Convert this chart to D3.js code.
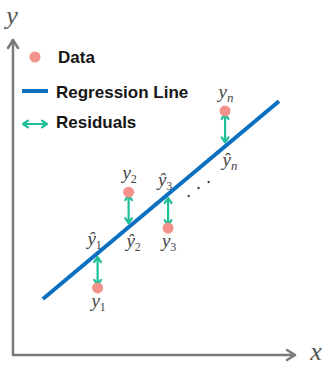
<!DOCTYPE html>
<html><head><meta charset="utf-8">
<script src="https://cdn.jsdelivr.net/npm/d3@7"></script>
<style>html,body{margin:0;padding:0;background:#fff;}</style>
</head><body>
<script>
// ---- data (abstract units) ----
const xs = [30, 41, 55, 75.2];
const ys = [21.3, 51.7, 40.3, 77.5];
const subs = ["1", "2", "3", "n"];
const lineX = [10.6, 94.3];
const slope = 0.75, intercept = 9.85;
const ellipsisX = [62.3, 65.8, 69.4];
const ellipsisY = [50.5, 53.0, 54.9];
const legendLabels = ["Data", "Regression Line", "Residuals"];

const W = 327, H = 366;
const blue = "#0b70c0", teal = "#1fbf97", salmon = "#f2928a", grey = "#7a7a7a";
const svg = d3.select("body").append("svg").attr("width", W).attr("height", H);
const x = d3.scaleLinear().domain([0, 100]).range([13, 295]);
const y = d3.scaleLinear().domain([0, 100]).range([355, 40]);
const fit = v => intercept + slope * v;

// axes
const ax = svg.append("g").attr("stroke", grey).attr("stroke-width", 2.5).attr("fill", "none")
  .attr("stroke-linecap", "round").attr("stroke-linejoin", "round");
ax.append("path").attr("d", `M${x(0)},${y(0)}L${x(0)},${y(100)}`);
ax.append("path").attr("d", `M${x(0)},${y(0)}L${x(100)},${y(0)}`);
ax.append("path").attr("d", `M${x(0)-5},${y(100)+8}L${x(0)},${y(100)}L${x(0)+5},${y(100)+8}`);
ax.append("path").attr("d", `M${x(100)-8},${y(0)-5}L${x(100)},${y(0)}L${x(100)-8},${y(0)+5}`);
svg.append("text").attr("x", 12).attr("y", 24).attr("text-anchor", "middle")
  .attr("font-family", "Liberation Serif, serif").attr("font-style", "italic").attr("font-size", 26)
  .attr("fill", "#555").text("y");
svg.append("text").attr("x", 316).attr("y", 360).attr("text-anchor", "middle")
  .attr("font-family", "Liberation Serif, serif").attr("font-style", "italic").attr("font-size", 26)
  .attr("fill", "#555").text("x");

// regression line
svg.append("line").attr("x1", x(lineX[0])).attr("y1", y(fit(lineX[0])))
  .attr("x2", x(lineX[1])).attr("y2", y(fit(lineX[1])))
  .attr("stroke", blue).attr("stroke-width", 4);

// residual arrows
function dblArrow(g, x1, y1, x2, y2) {
  const a = Math.atan2(y2 - y1, x2 - x1), L = 6, s = 0.6;
  const head = (px, py, ang) => `M${px + L*Math.cos(ang+s)},${py + L*Math.sin(ang+s)}L${px},${py}L${px + L*Math.cos(ang-s)},${py + L*Math.sin(ang-s)}`;
  g.append("path").attr("d", `M${x1},${y1}L${x2},${y2}` + head(x1, y1, a) + head(x2, y2, a + Math.PI))
    .attr("fill", "none").attr("stroke", teal).attr("stroke-width", 2.2).attr("stroke-linejoin", "round").attr("stroke-linecap", "round");
}
const r = 5.5;
const ga = svg.append("g");
xs.forEach((xv, i) => {
  const px = x(xv), pl = y(fit(xv)), pp = y(ys[i]);
  const dir = pp > pl ? 1 : -1;
  dblArrow(ga, px, pl + dir * 4, px, pp - dir * 3);
});
// points
svg.append("g").selectAll("circle").data(xs).join("circle")
  .attr("cx", d => x(d)).attr("cy", (d, i) => y(ys[i])).attr("r", r).attr("fill", salmon);

// math labels
function mlabel(px, py, base, sub) {
  const t = svg.append("text").attr("x", px).attr("y", py).attr("text-anchor", "middle")
    .attr("font-family", "Liberation Serif, serif").attr("fill", "#444");
  t.append("tspan").attr("font-style", "italic").attr("font-size", 19).text(base);
  t.append("tspan").attr("font-size", sub === "n" ? 13 : 12).attr("font-style", sub === "n" ? "italic" : "normal")
    .attr("dy", 4).text(sub);
}
xs.forEach((xv, i) => {
  const px = x(xv), pl = y(fit(xv)), pp = y(ys[i]);
  if (pp > pl) {
    mlabel(px + 1, pp + 19, "y", subs[i]);
    mlabel(px - 3, pl - 8, "\u0177", subs[i]);
  } else {
    mlabel(px + 1, pp - 13, "y", subs[i]);
    mlabel(px + 5, pl + 20, "\u0177", subs[i]);
  }
});
// ellipsis dots
svg.append("g").selectAll("circle").data(ellipsisX).join("circle")
  .attr("cx", d => x(d)).attr("cy", (d, i) => y(ellipsisY[i])).attr("r", 1.2).attr("fill", "#444");

// legend
const lg = svg.append("g");
lg.append("circle").attr("cx", 35).attr("cy", 57).attr("r", 5.5).attr("fill", salmon);
lg.append("line").attr("x1", 22).attr("x2", 48).attr("y1", 91).attr("y2", 91).attr("stroke", blue).attr("stroke-width", 4);
dblArrow(lg, 23, 124, 47, 124);
const ly = [63, 98, 128], lx = [58, 56, 56];
legendLabels.forEach((t, i) => {
  lg.append("text").attr("x", lx[i]).attr("y", ly[i]).attr("font-family", "Liberation Sans, Arial, sans-serif")
    .attr("font-weight", "bold").attr("font-size", 17).attr("fill", "#161616").text(t);
});
</script>
</body></html>
